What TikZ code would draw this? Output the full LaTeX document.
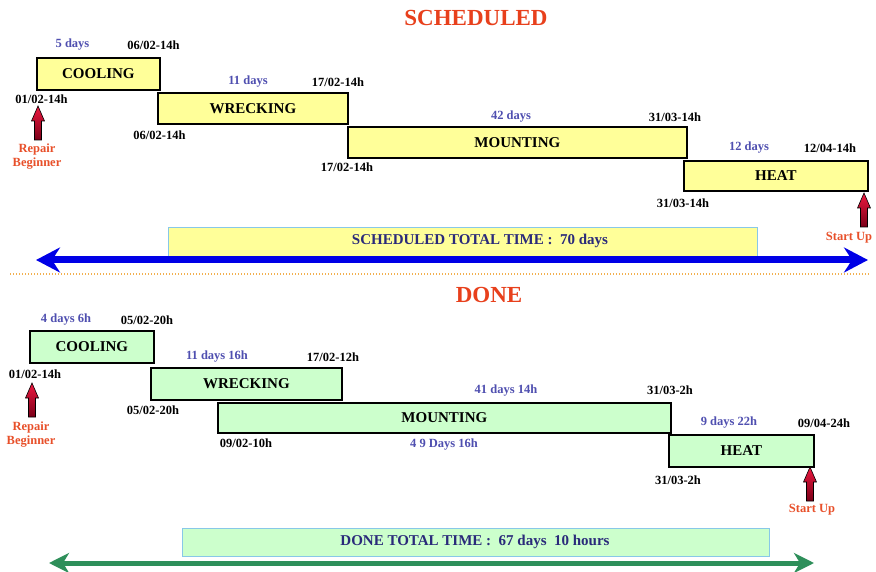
\documentclass[tikz,border=0pt]{standalone}
\usepackage{fontspec}
\setmainfont{Liberation Serif}
\usetikzlibrary{arrows.meta}
\definecolor{ttl}{HTML}{E8401C}
\definecolor{lbl}{HTML}{4F4FB0}
\definecolor{yfill}{HTML}{FFFF99}
\definecolor{gfill}{HTML}{CCFFCC}
\definecolor{tborder}{HTML}{88C8E8}
\definecolor{ttext}{HTML}{2A2A7A}
\definecolor{bluearr}{HTML}{0000E6}
\definecolor{greenarr}{HTML}{2E8F5A}
\definecolor{arrtop}{HTML}{EE1840}
\definecolor{arrbot}{HTML}{7A0018}
\definecolor{dotor}{HTML}{F2B050}
\definecolor{redtxt}{HTML}{E8502A}
\tikzset{
  titletext/.style={font=\bfseries\fontsize{23}{26}\selectfont, text=ttl, inner sep=0},
  phase/.style={draw=black, line width=1.8pt, anchor=north west, inner sep=0,
    font=\bfseries\fontsize{15}{17}\selectfont},
  phaseY/.style={phase, fill=yfill},
  phaseG/.style={phase, fill=gfill},
  datelbl/.style={font=\bfseries\fontsize{12.5}{14}\selectfont, inner sep=0},
  durlbl/.style={datelbl, text=lbl},
  eventlbl/.style={font=\bfseries\fontsize{12.5}{14}\selectfont, text=redtxt, align=center, inner sep=0},
  totalbox/.style={draw=tborder, line width=1.2pt, anchor=north west, inner sep=0},
  totaltext/.style={font=\bfseries\fontsize{15}{17}\selectfont, text=ttext, inner sep=0},
  redup/.pic={\shade[top color=arrtop, bottom color=arrbot, draw=black, line width=0.6pt]
     (-3.5,0) -- (-3.5,-19) -- (-6.5,-19) -- (0,-34) -- (6.5,-19) -- (3.5,-19) -- (3.5,0) -- cycle;},
  bluespan/.style={draw=bluearr, line width=7pt,
     arrows={Stealth[length=24pt, width=25pt, inset=8pt, fill=bluearr]-Stealth[length=24pt, width=25pt, inset=8pt, fill=bluearr]}},
  greenspan/.style={draw=greenarr, line width=5pt,
     arrows={Stealth[length=20pt, width=20pt, inset=6pt, fill=greenarr]-Stealth[length=20pt, width=20pt, inset=6pt, fill=greenarr]}},
}
\begin{document}
\begin{tikzpicture}[x=1pt, y=-1pt]
\useasboundingbox (0,0) rectangle (876,572);
\fill[white] (0,0) rectangle (876,572);

% ===== SCHEDULED =====
\node[titletext] (t1) at (476,18) {SCHEDULED};

\node[phaseY, minimum width=123pt, minimum height=32pt] (sc) at (36,57) {COOLING};
\node[phaseY, minimum width=190pt, minimum height=31pt] (sw) at (157,92) {WRECKING};
\node[phaseY, minimum width=339pt, minimum height=31pt] (sm) at (347,126) {MOUNTING};
\node[phaseY, minimum width=184pt, minimum height=30pt] (sh) at (683,160) {HEAT};

\node[durlbl] (sd1) at (72.5,45) {5 days};
\node[datelbl] (se1) at (153.5,45) {06/02-14h};
\node[datelbl] (ss1) at (41.5,99) {01/02-14h};
\node[durlbl] (sd2) at (248,82) {11 days};
\node[datelbl] (se2) at (338,82) {17/02-14h};
\node[datelbl] (ss2) at (159.5,135) {06/02-14h};
\node[durlbl] (sd3) at (511,117) {42 days};
\node[datelbl] (se3) at (675,117) {31/03-14h};
\node[datelbl] (ss3) at (347,167) {17/02-14h};
\node[durlbl] (sd4) at (749,148) {12 days};
\node[datelbl] (se4) at (830,148) {12/04-14h};
\node[datelbl] (ss4) at (683,203) {31/03-14h};

\node[eventlbl] (srb) at (37,157) {Repair\\Beginner};
\pic at (38,140) {redup};
\node[eventlbl] (ssu) at (849,238) {Start Up};
\pic at (864,227) {redup};

\node[totalbox, fill=yfill, minimum width=589pt, minimum height=29pt] (stb) at (168,227) {};
\node[totaltext] (stt) at (480,241) {SCHEDULED TOTAL TIME :\ \ 70 days};

\coordinate (sbl) at (36,260);
\coordinate (sbr) at (868,260);
\draw[bluespan] (sbl) -- (sbr);

\coordinate (dotl) at (10,274);
\coordinate (dotr) at (870,274);
\draw[dotor, line width=1.3pt, dash pattern=on 1.3pt off 1.7pt] (dotl) -- (dotr);

% ===== DONE =====
\node[titletext] (t2) at (489,295) {DONE};

\node[phaseG, minimum width=124pt, minimum height=32pt] (dc) at (29,330) {COOLING};
\node[phaseG, minimum width=191pt, minimum height=32pt] (dw) at (150,367) {WRECKING};
\node[phaseG, minimum width=453pt, minimum height=30pt] (dm) at (217,402) {MOUNTING};
\node[phaseG, minimum width=145pt, minimum height=32pt] (dh) at (668,434) {HEAT};

\node[durlbl] (dd1) at (66,320) {4 days 6h};
\node[datelbl] (de1) at (147,320) {05/02-20h};
\node[datelbl] (ds1) at (35,374) {01/02-14h};
\node[durlbl] (dd2) at (217,357) {11 days 16h};
\node[datelbl] (de2) at (333,357) {17/02-12h};
\node[datelbl] (ds2) at (153,410) {05/02-20h};
\node[durlbl] (dd3) at (506,391) {41 days 14h};
\node[datelbl] (de3) at (670,390) {31/03-2h};
\node[datelbl] (ds3) at (246,443) {09/02-10h};
\node[durlbl] (dx3) at (444,445) {4 9 Days 16h};
\node[durlbl] (dd4) at (729,423) {9 days 22h};
\node[datelbl] (de4) at (824,423) {09/04-24h};
\node[datelbl] (ds4) at (678,480) {31/03-2h};

\node[eventlbl] (drb) at (31,435) {Repair\\Beginner};
\pic at (32,417) {redup};
\node[eventlbl] (dsu) at (812,510) {Start Up};
\pic at (810,501) {redup};

\node[totalbox, fill=gfill, minimum width=587pt, minimum height=28pt] (dtb) at (182,528) {};
\node[totaltext] (dtt) at (475,542) {DONE TOTAL TIME :\ \ 67 days\ \ 10 hours};

\coordinate (gbl) at (49,563);
\coordinate (gbr) at (814,563);
\draw[greenspan] (gbl) -- (gbr);
\end{tikzpicture}
\end{document}
